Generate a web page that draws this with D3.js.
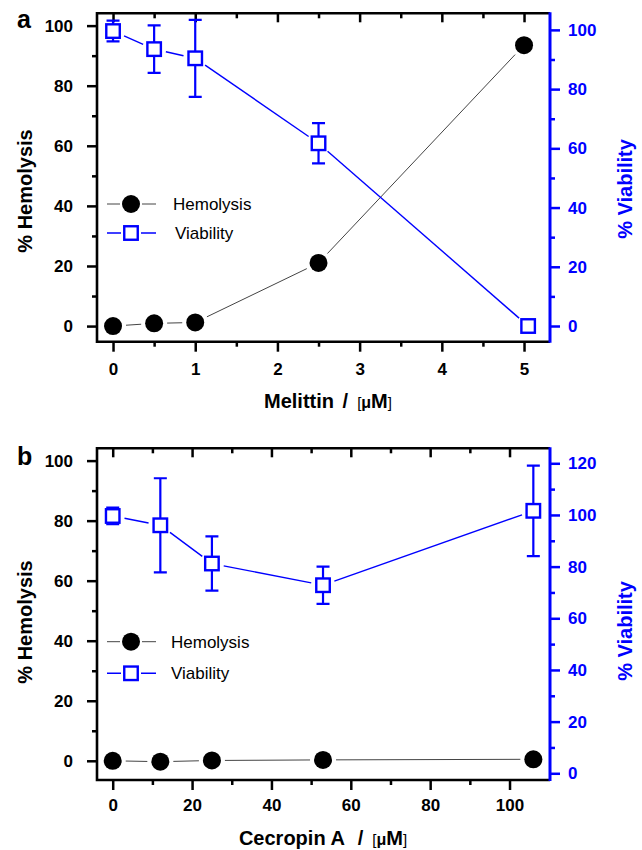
<!DOCTYPE html>
<html>
<head>
<meta charset="utf-8">
<script src="https://cdn.jsdelivr.net/npm/d3@7"></script>
<style>
  body { margin: 0; background: #fff; }
  text { font-family: Arial, "Liberation Sans", sans-serif; }
</style>
</head>
<body>
<div id="chart"></div>
<script>
// panel a - melittin
const melittinConc = [0, 0.5, 1, 2.5, 5];
const melittinHemolysis = [0, 0.9, 1.2, 21, 93.5];
const melittinViabConc = [0, 0.5, 1, 2.5, 5.05];
const melittinViability = [99.6, 93.5, 90.4, 61.7, 0];
const melittinViabErr = [3.5, 8, 13, 6.8, 0];

// panel b - cecropin A
const cecropinConc = [0, 12, 25, 53, 106];
const cecropinHemolysis = [0, -0.3, 0.1, 0.3, 0.5];
const cecropinViability = [99.6, 96, 81.2, 72.8, 101.6];
const cecropinViabErr = [3.2, 18.2, 10.5, 7.2, 17.5];

const legendLabels = ["Hemolysis", "Viability"];

const blue = "#0000ff";
const W = 642, H = 850;

const svg = d3.select("#chart").append("svg").attr("width", W).attr("height", H);

function drawPanel(p) {
  const g = svg.append("g");
  const x = d3.scaleLinear().domain(p.xDomain).range([p.left, p.right]);
  const yL = d3.scaleLinear().domain(p.yLDomain).range([p.bottom, p.top]);
  const yR = d3.scaleLinear().domain(p.yRDomain).range([p.bottom, p.top]);

  // axes
  function styleAxis(sel, color) {
    sel.select(".domain").remove();
    sel.selectAll("line").attr("stroke", color).attr("stroke-width", 2.5);
    sel.selectAll("text")
      .attr("fill", color)
      .attr("font-size", 17)
      .attr("font-weight", "bold")
      .attr("font-family", "Arial, 'Liberation Sans', sans-serif");
  }

  g.append("g").attr("transform", `translate(0,${p.bottom})`)
    .call(d3.axisBottom(x).tickValues(p.xMajor).tickSize(10).tickPadding(p.xPad).tickFormat(d3.format("d")))
    .call(styleAxis, "#000");
  g.append("g").attr("transform", `translate(0,${p.bottom})`)
    .call(d3.axisBottom(x).tickValues(p.xMinor).tickSize(5).tickFormat(""))
    .call(styleAxis, "#000");
  g.append("g").attr("transform", `translate(0,${p.top})`)
    .call(d3.axisTop(x).tickValues(p.xMajor).tickSize(-9).tickFormat(""))
    .call(styleAxis, "#000");
  g.append("g").attr("transform", `translate(0,${p.top})`)
    .call(d3.axisTop(x).tickValues(p.xMinor).tickSize(-5).tickFormat(""))
    .call(styleAxis, "#000");

  g.append("g").attr("transform", `translate(${p.left},0)`)
    .call(d3.axisLeft(yL).tickValues(d3.range(0, 101, 20)).tickSize(10).tickPadding(14))
    .call(styleAxis, "#000");
  g.append("g").attr("transform", `translate(${p.left},0)`)
    .call(d3.axisLeft(yL).tickValues(d3.range(10, 100, 20)).tickSize(5).tickFormat(""))
    .call(styleAxis, "#000");

  g.append("g").attr("transform", `translate(${p.right},0)`)
    .call(d3.axisRight(yR).tickValues(p.yRMajor).tickSize(10).tickPadding(8))
    .call(styleAxis, blue);
  g.append("g").attr("transform", `translate(${p.right},0)`)
    .call(d3.axisRight(yR).tickValues(p.yRMinor).tickSize(5).tickFormat(""))
    .call(styleAxis, blue);

  // frame
  g.append("path")
    .attr("d", `M${p.right},${p.top}H${p.left}V${p.bottom}H${p.right}`)
    .attr("fill", "none").attr("stroke", "#000").attr("stroke-width", 2.6);
  g.append("line")
    .attr("x1", p.right).attr("x2", p.right).attr("y1", p.top - 1).attr("y2", p.bottom + 1)
    .attr("stroke", blue).attr("stroke-width", 3);

  // connecting lines, broken around the markers
  function gapLines(pts, gap, color, width) {
    for (let i = 0; i < pts.length - 1; i++) {
      const [x1, y1] = pts[i], [x2, y2] = pts[i + 1];
      const len = Math.hypot(x2 - x1, y2 - y1);
      if (len <= 2 * gap) continue;
      const ux = (x2 - x1) / len, uy = (y2 - y1) / len;
      g.append("line")
        .attr("x1", x1 + ux * gap).attr("y1", y1 + uy * gap)
        .attr("x2", x2 - ux * gap).attr("y2", y2 - uy * gap)
        .attr("stroke", color).attr("stroke-width", width);
    }
  }

  const hemPts = p.conc.map((c, i) => [x(c), yL(p.hem[i])]);
  const viaPts = p.viabConc.map((c, i) => [x(c), yR(p.via[i])]);
  gapLines(hemPts, 13, "#444", 1);
  gapLines(viaPts, 12, blue, 1.4);

  // error bars
  const cap = 6.5;
  p.viabConc.forEach((c, i) => {
    const e = p.err[i];
    if (!e) return;
    const cx = x(c), t = yR(p.via[i] + e), b = yR(p.via[i] - e);
    g.append("path")
      .attr("d", `M${cx},${t}V${b}M${cx - cap},${t}H${cx + cap}M${cx - cap},${b}H${cx + cap}`)
      .attr("fill", "none").attr("stroke", blue).attr("stroke-width", 2.2);
  });

  // markers
  g.selectAll("circle.hem").data(hemPts).join("circle")
    .attr("class", "hem")
    .attr("cx", d => d[0]).attr("cy", d => d[1]).attr("r", 9).attr("fill", "#000");
  const s = 13.5;
  g.selectAll("rect.via").data(viaPts).join("rect")
    .attr("class", "via")
    .attr("x", d => d[0] - s / 2).attr("y", d => d[1] - s / 2)
    .attr("width", s).attr("height", s)
    .attr("fill", "#fff").attr("stroke", blue).attr("stroke-width", 2.4);

  // legend
  const lx = 107, lx2 = 156, lmid = 131;
  const ly = p.legendY;
  g.append("path").attr("d", `M${lx},${ly[0]}H${lmid - 11}M${lmid + 11},${ly[0]}H${lx2}`)
    .attr("stroke", "#444").attr("stroke-width", 1);
  g.append("circle").attr("cx", lmid).attr("cy", ly[0]).attr("r", 9).attr("fill", "#000");
  g.append("path").attr("d", `M${lx},${ly[1]}H${lmid - 10}M${lmid + 10},${ly[1]}H${lx2}`)
    .attr("stroke", blue).attr("stroke-width", 1.4);
  g.append("rect").attr("x", lmid - s / 2).attr("y", ly[1] - s / 2).attr("width", s).attr("height", s)
    .attr("fill", "#fff").attr("stroke", blue).attr("stroke-width", 2.4);
  legendLabels.forEach((t, i) => {
    g.append("text").attr("x", p.legendX[i]).attr("y", ly[i]).attr("dy", "0.35em")
      .attr("font-size", 17).text(t);
  });

  // panel letter
  g.append("text").attr("x", 17).attr("y", p.letterY)
    .attr("font-size", 25).attr("font-weight", "bold").text(p.letter);

  // y titles
  g.append("text").attr("transform", `translate(32,${p.yLTitleY}) rotate(-90)`)
    .attr("text-anchor", "middle").attr("font-size", 20).attr("font-weight", "bold")
    .text("% Hemolysis");
  g.append("text").attr("transform", `translate(632,${p.yRTitleY}) rotate(-90)`)
    .attr("text-anchor", "middle").attr("font-size", 20).attr("font-weight", "bold")
    .attr("fill", blue).text("% Viability");

  // x title
  const xt = g.append("text").attr("x", p.xTitleX).attr("y", p.xTitleY)
    .attr("text-anchor", "middle").attr("font-weight", "bold").attr("font-size", 20);
  xt.append("tspan").text(p.xName);
  xt.append("tspan").attr("dx", p.slashGap).text("/");
  xt.append("tspan").attr("dx", 9).attr("font-size", 15).attr("font-weight", "normal").text("[");
  xt.append("tspan").attr("font-size", 16).text("μ");
  xt.append("tspan").text("M");
  xt.append("tspan").attr("font-size", 15).attr("font-weight", "normal").text("]");
}

drawPanel({
  letter: "a", letterY: 28,
  left: 97, right: 550, top: 13.3, bottom: 341.7,
  xDomain: [-0.195, 5.316], yLDomain: [-5.2, 104.1], yRDomain: [-5.3, 105.6],
  xMajor: d3.range(0, 6, 1), xMinor: d3.range(0.5, 5.3, 1), xPad: 11,
  yRMajor: d3.range(0, 101, 20), yRMinor: d3.range(10, 100, 20),
  conc: melittinConc, hem: melittinHemolysis,
  viabConc: melittinViabConc, via: melittinViability, err: melittinViabErr,
  legendY: [204, 233], legendX: [173, 175],
  yLTitleY: 191, yRTitleY: 189,
  xName: "Melittin ", slashGap: 3, xTitleX: 328, xTitleY: 408
});

drawPanel({
  letter: "b", letterY: 465,
  left: 97, right: 550, top: 448.3, bottom: 780,
  xDomain: [-3.96, 110.2], yLDomain: [-6.4, 104.1], yRDomain: [-2.6, 125.8],
  xMajor: d3.range(0, 101, 20), xMinor: d3.range(10, 101, 20), xPad: 8.5,
  yRMajor: d3.range(0, 121, 20), yRMinor: d3.range(10, 120, 20),
  conc: cecropinConc, hem: cecropinHemolysis,
  viabConc: cecropinConc, via: cecropinViability, err: cecropinViabErr,
  legendY: [641.7, 673.3], legendX: [171, 171],
  yLTitleY: 622, yRTitleY: 631,
  xName: "Cecropin A ", slashGap: 8, xTitleX: 323, xTitleY: 845
});
</script>
</body>
</html>
